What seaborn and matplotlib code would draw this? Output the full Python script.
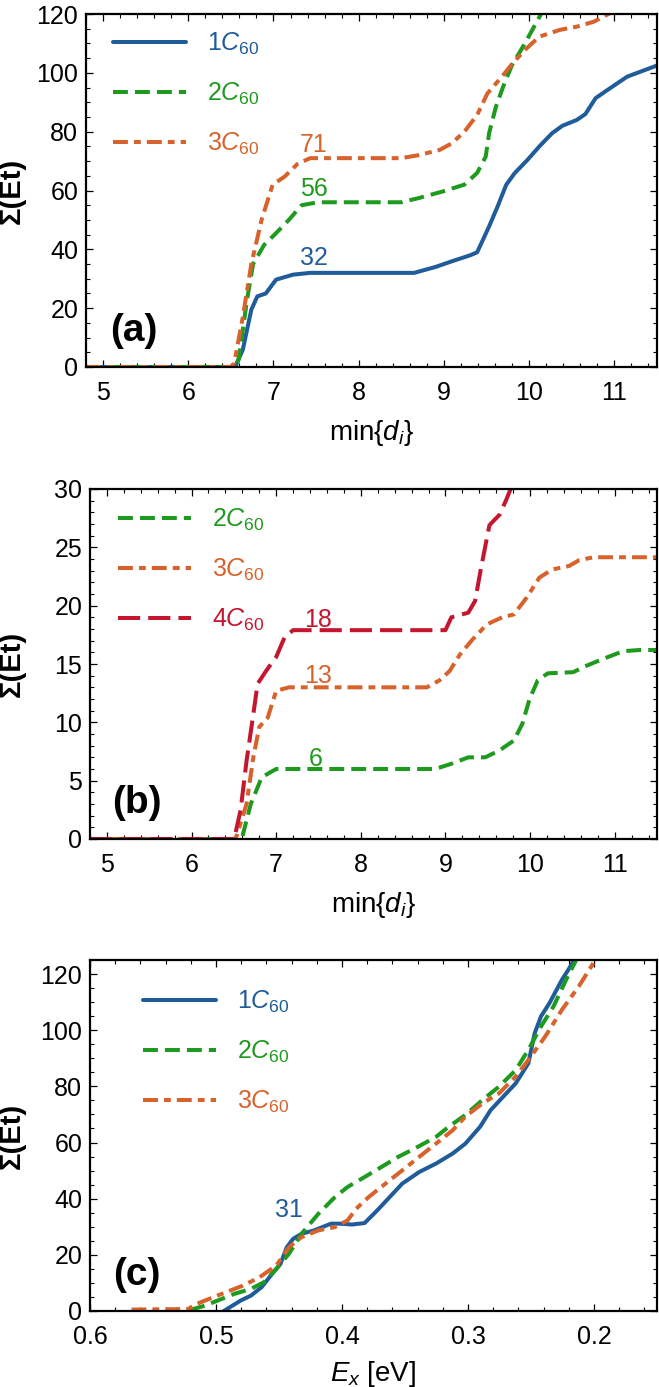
import matplotlib
matplotlib.use('Agg')
import matplotlib.pyplot as plt
from matplotlib.ticker import MultipleLocator, FormatStrFormatter
import seaborn as sns

# =============================================================================
# Data
# =============================================================================

# panel (a): sum of Et vs min{d_i}
a1_x = [4.8, 6.55, 6.64, 6.74, 6.81, 6.91, 7.03, 7.23, 7.43, 8.65, 8.9, 9.09,
        9.31, 9.39, 9.53, 9.63, 9.73, 9.83, 9.98, 10.12, 10.27, 10.39, 10.56,
        10.66, 10.78, 10.91, 11.15, 11.5]
a1_y = [0, 0, 5.9, 19.5, 24, 25, 29.7, 31.4, 32, 32, 34, 35.9, 38, 39, 47.8,
        54.6, 61.9, 65.9, 70.4, 75, 79.5, 82, 84, 86, 91.4, 94, 98.7, 102.5]

a2_x = [4.8, 6.55, 6.59, 6.69, 6.76, 6.89, 7.03, 7.18, 7.33, 7.52, 8.5, 8.7,
        8.99, 9.24, 9.39, 9.49, 9.53, 9.61, 9.71, 9.8, 9.95, 10.12, 10.2]
a2_y = [0, 0, 2.5, 22.9, 35, 41.5, 45.5, 50, 55, 56, 56, 57.4, 59.7, 62, 66,
        71.5, 79.5, 88.5, 96.5, 102.7, 110, 119, 123]

a3_x = [4.8, 6.5, 6.54, 6.64, 6.74, 6.86, 6.99, 7.13, 7.28, 7.43, 8.5, 8.7,
        8.95, 9.09, 9.24, 9.39, 9.51, 9.68, 9.8, 9.95, 10.12, 10.36, 10.56,
        10.76, 10.93, 11.0]
a3_y = [0, 0, 1.4, 17, 35, 50, 62, 64.7, 69, 71, 71, 72, 73.8, 76, 80, 85.7,
        93, 98.7, 103, 107.8, 112.3, 114.6, 115.7, 117.4, 120, 121]

# panel (b)
b2_x = [4.8, 6.55, 6.6, 6.7, 6.83, 7.0, 8.88, 9.07, 9.27, 9.47, 9.64, 9.81,
        9.91, 9.99, 10.09, 10.21, 10.51, 10.65, 10.85, 11.1, 11.3, 11.5]
b2_y = [0, 0, 0.2, 3.0, 5.3, 6.0, 6.0, 6.45, 7.0, 7.0, 7.6, 8.45, 9.9, 11.9,
        13.6, 14.2, 14.3, 14.8, 15.4, 16.1, 16.2, 16.2]

b3_x = [4.8, 6.5, 6.53, 6.65, 6.73, 6.8, 6.9, 7.0, 7.15, 8.78, 8.93, 9.05,
        9.17, 9.32, 9.49, 9.67, 9.81, 9.96, 10.11, 10.26, 10.46, 10.58, 10.75,
        11.5]
b3_y = [0, 0, 0.2, 3.0, 7.0, 9.6, 10.4, 12.7, 13.0, 13.0, 13.6, 14.4, 15.8,
        17.1, 18.4, 19.0, 19.25, 20.7, 22.4, 23.1, 23.4, 23.9, 24.15, 24.15]

b4_x = [4.8, 6.5, 6.51, 6.58, 6.65, 6.73, 6.78, 6.88, 7.0, 7.1, 7.2, 9.0,
        9.07, 9.27, 9.35, 9.42, 9.52, 9.64, 9.72, 9.77, 9.8]
b4_y = [0, 0, 0.2, 2.5, 6.7, 10.7, 13.3, 14.4, 15.6, 17.3, 17.9, 17.9, 19.0,
        19.4, 20.4, 23.2, 26.9, 27.8, 29.1, 30, 31]

# panel (c): sum of Et vs E_x
c1_x = [0.4938, 0.4805, 0.4722, 0.4638, 0.4555, 0.4488, 0.4438, 0.4388,
        0.4321, 0.4221, 0.4088, 0.4021, 0.3921, 0.3821, 0.3721, 0.3621,
        0.3521, 0.3387, 0.3254, 0.3121, 0.3021, 0.2904, 0.2821, 0.2721,
        0.2621, 0.2521, 0.2471, 0.2421, 0.2354, 0.2254, 0.2204, 0.2154]
c1_y = [0, 3.7, 5.5, 8.5, 13.2, 16.8, 22.7, 25.7, 27.5, 28.7, 31.1, 31.1,
        30.8, 31.3, 35.8, 40.6, 45.4, 49.5, 52.5, 56.1, 59.6, 65.6, 71.5,
        76.3, 81.1, 88.2, 98.9, 104.9, 109.6, 118, 121.5, 125.4]

c2_x = [0.5205, 0.5088, 0.4988, 0.4855, 0.4722, 0.4621, 0.4521, 0.4421,
        0.4321, 0.4188, 0.4055, 0.3955, 0.3821, 0.3687, 0.3554, 0.3421,
        0.3254, 0.3154, 0.3021, 0.2887, 0.2754, 0.2621, 0.2521, 0.2421,
        0.2321, 0.2221, 0.2137]
c2_y = [0.4, 1.9, 3.7, 6.1, 7.9, 10.2, 15, 20.4, 27.5, 34.6, 40.6, 44.2,
        47.7, 51.3, 54.9, 57.9, 62, 65.6, 69.8, 75.1, 79.9, 85.8, 93, 101.3,
        108.5, 118, 125.4]

c3_x = [0.5671, 0.5221, 0.5155, 0.5055, 0.4921, 0.4788, 0.4655, 0.4521,
        0.4421, 0.4321, 0.4188, 0.4055, 0.3955, 0.3888, 0.3788, 0.3654,
        0.3521, 0.3387, 0.3254, 0.3121, 0.3021, 0.2887, 0.2754, 0.2621,
        0.2521, 0.2388, 0.2254, 0.2121, 0.2021, 0.1988]
c3_y = [0.5, 0.7, 2.5, 4.3, 6.7, 9, 12, 16.2, 22.7, 26.3, 28.7, 29.9, 32.3,
        36.4, 40.6, 45.4, 50.1, 54.9, 59.6, 64.4, 69.2, 73.9, 77.5, 83.5,
        89.4, 97.7, 107.3, 115.6, 122.7, 125.4]

# plateau annotations (text, x, y)
a_notes = [('71', 7.47, 75.5), ('56', 7.47, 60.5), ('32', 7.47, 37.0)]
b_notes = [('18', 7.49, 18.8), ('13', 7.49, 14.0), ('6', 7.47, 6.9)]
c_notes = [('31', 0.442, 35.8)]

# =============================================================================
# Style
# =============================================================================
sns.set_theme(style='ticks')
plt.rcParams['font.family'] = ['Liberation Sans', 'DejaVu Sans']
plt.rcParams['mathtext.fontset'] = 'custom'
plt.rcParams['mathtext.rm'] = 'Liberation Sans'
plt.rcParams['mathtext.it'] = 'Liberation Sans:italic'
plt.rcParams['mathtext.bf'] = 'Liberation Sans:bold'
for key in ['text.color', 'axes.labelcolor', 'xtick.color', 'ytick.color',
            'axes.edgecolor']:
    plt.rcParams[key] = 'black'

blue = '#1f5c99'
green = '#1e9a1e'
orange = '#d8622c'
red = '#c4172f'

LW = 2.9
st_solid = '-'
st_dash = (0, (3.7, 1.75))
st_dashdot = (0, (3.7, 1.5, 1.7, 1.5))
st_long = (0, (5.5, 2.0))


def c60(n):
    return rf'{n}$C_{{\mathrm{{60}}}}$'


def style_axes(ax, xmaj, xmin, ymaj, ymin):
    ax.xaxis.set_major_locator(MultipleLocator(xmaj))
    ax.xaxis.set_minor_locator(MultipleLocator(xmin))
    ax.yaxis.set_major_locator(MultipleLocator(ymaj))
    ax.yaxis.set_minor_locator(MultipleLocator(ymin))
    ax.tick_params(which='both', direction='in', top=True, right=True,
                   color='black', labelcolor='black')
    ax.tick_params(which='major', length=5, width=0.9, labelsize=18)
    ax.tick_params(which='minor', length=3, width=0.8)
    ax.tick_params(axis='x', which='both', pad=10)
    ax.tick_params(axis='y', which='both', pad=5.5)
    for sp in ax.spines.values():
        sp.set_linewidth(1.6)
        sp.set_color('black')


def draw(ax, x, y, color, ls, label):
    sns.lineplot(x=x, y=y, ax=ax, color=color, linestyle=ls, linewidth=LW,
                 sort=False, estimator=None, label=label)


W, H = 659, 1387
fig = plt.figure(figsize=(W / 100, H / 100), dpi=100)

ax_a = fig.add_axes([86 / W, 1 - 367 / H, 571 / W, 353 / H])
ax_b = fig.add_axes([90 / W, 1 - 839 / H, 567 / W, 350 / H])
ax_c = fig.add_axes([90 / W, 1 - 1311 / H, 567 / W, 351 / H])

# ---- (a)
draw(ax_a, a1_x, a1_y, blue, st_solid, c60(1))
draw(ax_a, a2_x, a2_y, green, st_dash, c60(2))
draw(ax_a, a3_x, a3_y, orange, st_dashdot, c60(3))
ax_a.set_xlim(4.8, 11.5)
ax_a.set_ylim(0, 120)
style_axes(ax_a, 1, 0.2, 20, 5)
for (t, x, y), col in zip(a_notes, [orange, green, blue]):
    ax_a.text(x, y, t, color=col, fontsize=18, ha='center', va='center')

# ---- (b)
draw(ax_b, b2_x, b2_y, green, st_dash, c60(2))
draw(ax_b, b3_x, b3_y, orange, st_dashdot, c60(3))
draw(ax_b, b4_x, b4_y, red, st_long, c60(4))
ax_b.set_xlim(4.8, 11.5)
ax_b.set_ylim(0, 30)
style_axes(ax_b, 1, 0.2, 5, 1)
for (t, x, y), col in zip(b_notes, [red, orange, green]):
    ax_b.text(x, y, t, color=col, fontsize=18, ha='center', va='center')

# ---- (c)
draw(ax_c, c1_x, c1_y, blue, st_solid, c60(1))
draw(ax_c, c2_x, c2_y, green, st_dash, c60(2))
draw(ax_c, c3_x, c3_y, orange, st_dashdot, c60(3))
ax_c.set_xlim(0.6, 0.15)
ax_c.set_ylim(0, 125)
style_axes(ax_c, 0.1, 0.02, 20, 5)
ax_c.xaxis.set_major_formatter(FormatStrFormatter('%.1f'))
for t, x, y in c_notes:
    ax_c.text(x, y, t, color=blue, fontsize=18, ha='center', va='center')

# labels, legends, panel tags
leg_pos = {ax_a: (0.047, 0.952), ax_b: (0.049, 0.949), ax_c: (0.093, 0.917)}
for ax, tag, xl, ylx, xly in [(ax_a, '(a)', r'min{$d_i$}', -0.105, -0.145),
                              (ax_b, '(b)', r'min{$d_i$}', -0.113, -0.145),
                              (ax_c, '(c)', r'$E_x$ [eV]', -0.113, -0.138)]:
    ax.set_xlabel(xl, fontsize=20)
    ax.set_ylabel('Σ(Et)', fontsize=21, fontweight='bold')
    ax.xaxis.set_label_coords(0.5, xly)
    ax.yaxis.set_label_coords(ylx, 0.5)
    ax.text(0.083, 0.103, tag, transform=ax.transAxes, fontsize=28,
            fontweight='bold', ha='center', va='center')
    ax.legend(loc='upper left', bbox_to_anchor=leg_pos[ax], frameon=False,
              borderpad=0, borderaxespad=0, fontsize=18, handlelength=2.92,
              handletextpad=0.84, labelspacing=0.95, labelcolor='linecolor')

fig.savefig('out.png', dpi=100)
